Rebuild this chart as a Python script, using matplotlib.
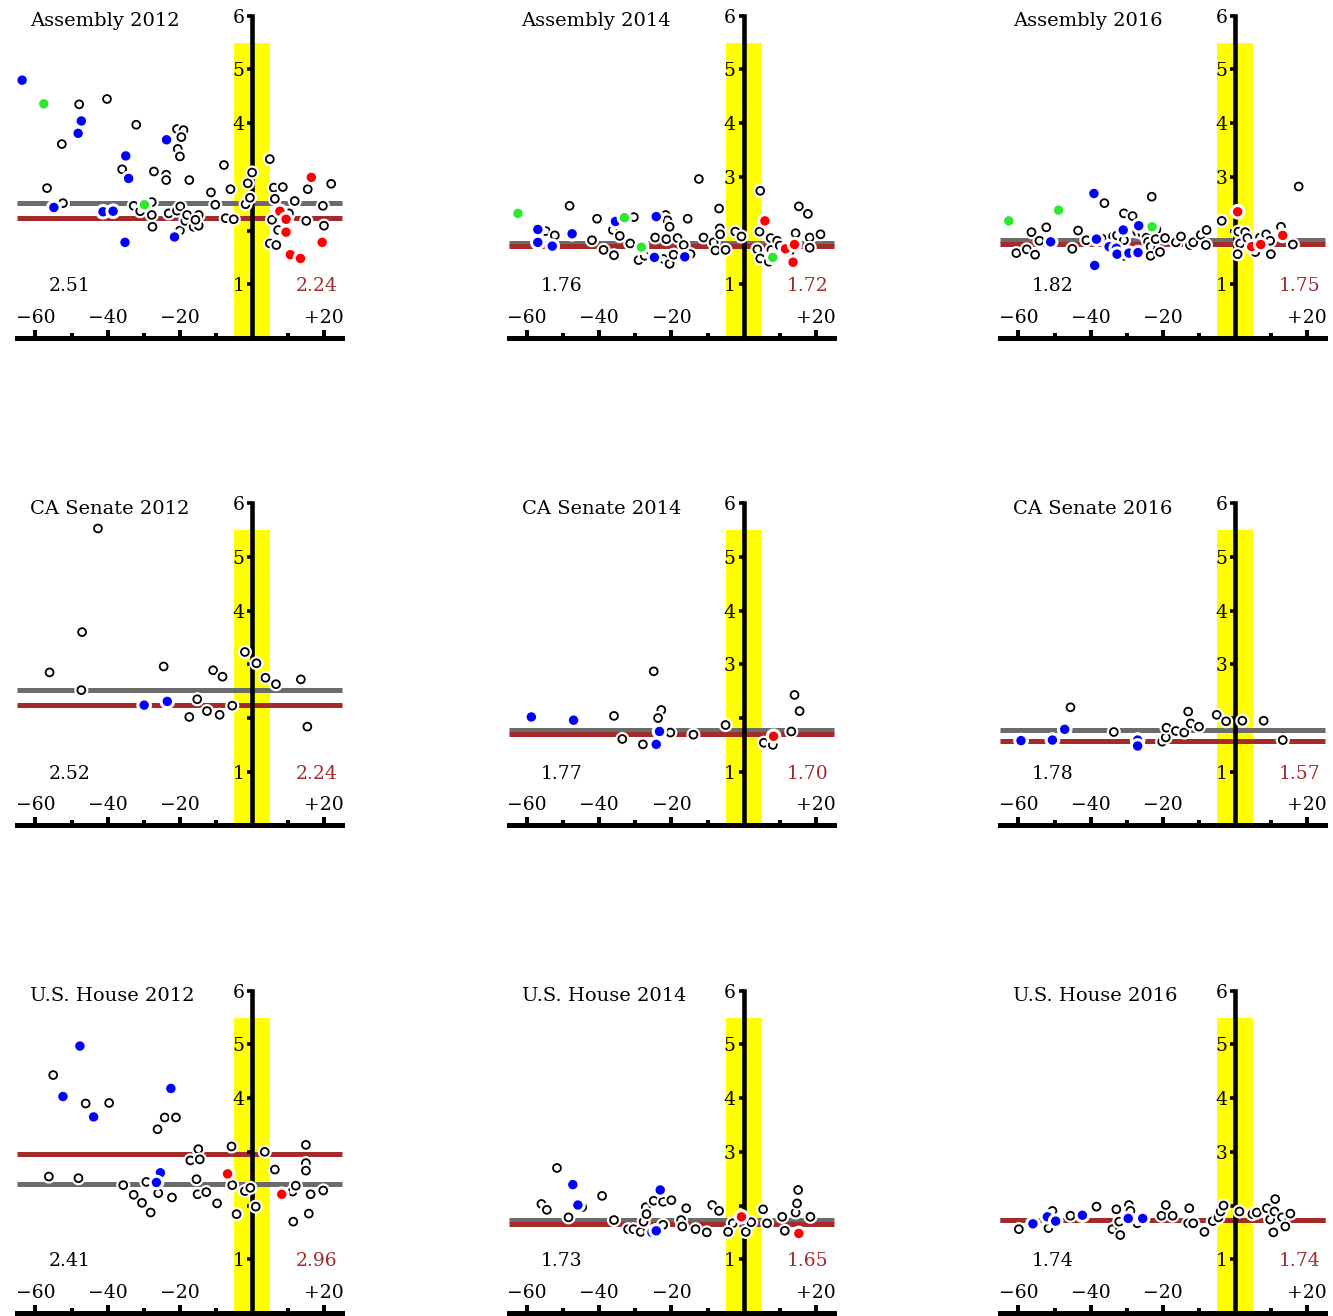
import matplotlib
matplotlib.use("Agg")
import matplotlib.pyplot as plt
import matplotlib.patheffects as pe

plt.rcParams["font.family"] = ["DejaVu Serif"]

titles = ["Assembly 2012", "Assembly 2014", "Assembly 2016",
          "CA Senate 2012", "CA Senate 2014", "CA Senate 2016",
          "U.S. House 2012", "U.S. House 2014", "U.S. House 2016"]
left_means = [2.51, 1.76, 1.82, 2.52, 1.77, 1.78, 2.41, 1.73, 1.74]
right_means = [2.24, 1.72, 1.75, 2.24, 1.70, 1.57, 2.96, 1.65, 1.74]

x_ticks = [-60, -40, -20, 20]
x_tick_labels = ["\u221260", "\u221240", "\u221220", "+20"]
x_minor = [-50, -30, -10, 10]
y_ticks = [1, 2, 3, 4, 5, 6]

# (x, y) points per panel and colour
asm12_open = [(-47.9, 4.35), (-40.2, 4.45), (-52.7, 3.61), (-32.1, 3.97), (-56.8, 2.79),
              (-52.4, 2.51), (-36.0, 3.14), (-27.2, 3.10), (-23.8, 3.04), (-23.8, 2.94),
              (-20.8, 3.89), (-19.0, 3.87), (-19.6, 3.74), (-20.6, 3.52), (-20.0, 3.38),
              (-17.4, 2.94), (-32.8, 2.46), (-31.0, 2.36), (-27.8, 2.53), (-27.8, 2.29),
              (-27.6, 2.07), (-23.1, 2.32), (-20.8, 2.37), (-19.9, 2.45), (-20.0, 2.00),
              (-18.5, 2.18), (-18.0, 2.29), (-16.2, 2.07), (-14.8, 2.09), (-14.8, 2.29),
              (-15.7, 2.20), (-11.4, 2.71), (-10.2, 2.48), (-7.8, 3.22), (-6.0, 2.77),
              (-7.3, 2.23), (-5.1, 2.21), (-1.8, 2.49), (-0.6, 2.61), (-1.2, 2.88),
              (0.0, 3.08), (4.9, 3.33), (6.0, 2.80), (8.5, 2.81), (6.3, 2.59),
              (11.8, 2.55), (10.2, 2.32), (5.5, 2.20), (7.2, 2.01), (4.9, 1.76),
              (6.7, 1.73), (15.4, 2.77), (15.0, 2.18), (19.6, 2.46), (19.9, 2.09),
              (21.9, 2.87)]
asm12_blue = [(-63.7, 4.80), (-47.3, 4.04), (-48.2, 3.81), (-35.0, 3.39), (-34.2, 2.97),
              (-54.9, 2.43), (-41.3, 2.35), (-38.5, 2.36), (-35.2, 1.78), (-23.7, 3.69),
              (-21.5, 1.88)]
asm12_green = [(-57.7, 4.36), (-29.8, 2.48)]
asm12_red = [(16.4, 2.99), (7.7, 2.36), (9.4, 2.21), (9.4, 1.97), (10.6, 1.55),
             (13.4, 1.48), (19.4, 1.78)]

asm14_open = [(-54.8, 1.99), (-52.3, 1.91), (-48.2, 2.46), (-47.3, 1.98), (-40.6, 2.22),
              (-42.0, 1.82), (-38.8, 1.64), (-35.9, 1.54), (-36.2, 2.01), (-34.3, 1.90),
              (-31.4, 1.76), (-30.4, 2.25), (-28.1, 1.73), (-29.1, 1.45), (-27.4, 1.53),
              (-24.5, 1.87), (-21.6, 2.29), (-21.1, 2.19), (-20.5, 2.07), (-21.4, 1.84),
              (-22.2, 1.47), (-20.5, 1.38), (-19.4, 1.55), (-18.3, 1.86), (-16.6, 1.73),
              (-14.7, 1.56), (-15.5, 2.22), (-12.4, 2.96), (-11.1, 1.87), (-8.3, 1.78),
              (-7.8, 1.63), (-6.8, 2.41), (-6.6, 2.04), (-6.5, 1.93), (-5.0, 1.64),
              (-2.3, 1.98), (-0.6, 1.89), (4.6, 2.74), (4.4, 1.98), (3.8, 1.65),
              (4.6, 1.48), (7.5, 1.86), (7.7, 1.64), (7.0, 1.42), (9.3, 1.81),
              (10.0, 1.72), (12.7, 1.60), (14.4, 1.95), (15.3, 2.45), (17.8, 2.31),
              (18.3, 1.87), (18.3, 1.68), (21.3, 1.93)]
asm14_blue = [(-57.0, 2.02), (-57.0, 1.78), (-53.0, 1.71), (-47.5, 1.94), (-35.5, 2.17),
              (-24.2, 2.26), (-24.7, 1.50), (-16.3, 1.51)]
asm14_green = [(-62.5, 2.32), (-33.0, 2.24), (-28.3, 1.69), (8.1, 1.50)]
asm14_red = [(5.9, 2.18), (11.6, 1.66), (14.1, 1.74), (13.7, 1.41)]

asm16_open = [(-60.6, 1.58), (-57.7, 1.65), (-55.4, 1.55), (-56.4, 1.97), (-54.2, 1.81),
              (-52.3, 2.06), (-45.1, 1.66), (-43.5, 2.00), (-41.2, 1.82), (-36.2, 2.51),
              (-36.9, 1.85), (-33.8, 1.89), (-32.7, 1.91), (-30.8, 2.32), (-28.4, 2.27),
              (-30.8, 1.82), (-30.8, 1.53), (-27.1, 1.98), (-25.7, 1.95), (-24.5, 1.87),
              (-23.1, 2.63), (-24.1, 1.79), (-23.4, 1.70), (-23.4, 1.53), (-21.8, 2.02),
              (-22.0, 1.84), (-20.8, 1.60), (-19.4, 1.86), (-16.4, 1.78), (-15.0, 1.89),
              (-12.5, 1.73), (-11.6, 1.78), (-9.5, 1.92), (-7.9, 2.01), (-8.1, 1.73),
              (-3.7, 2.18), (0.9, 1.98), (2.8, 1.97), (1.4, 1.76), (0.7, 1.56),
              (3.4, 1.86), (5.6, 1.60), (6.9, 1.87), (8.6, 1.93), (9.9, 1.56),
              (9.7, 1.81), (12.7, 2.07), (16.0, 1.74), (17.6, 2.82)]
asm16_blue = [(-39.1, 2.69), (-51.1, 1.79), (-38.4, 1.84), (-38.9, 1.35), (-34.9, 1.70),
              (-32.9, 1.67), (-32.7, 1.56), (-31.0, 2.01), (-29.4, 1.58), (-26.7, 2.09),
              (-26.9, 1.59)]
asm16_green = [(-62.7, 2.18), (-48.9, 2.38), (-23.0, 2.07)]
asm16_red = [(0.7, 2.35), (4.6, 1.70), (7.1, 1.74), (13.2, 1.91)]

sen12_open = [(-42.7, 5.53), (-47.1, 3.60), (-56.1, 2.85), (-47.3, 2.52), (-24.5, 2.96),
              (-17.4, 2.02), (-15.2, 2.35), (-12.5, 2.13), (-10.8, 2.89), (-8.2, 2.77),
              (-9.0, 2.06), (-5.5, 2.23), (-2.0, 3.23), (1.2, 3.02), (3.7, 2.75),
              (6.6, 2.63), (13.5, 2.72), (15.3, 1.84)]
sen12_blue = [(-29.9, 2.24), (-23.5, 2.31)]
sen12_green = []
sen12_red = []

sen14_open = [(-35.9, 2.04), (-33.6, 1.61), (-27.9, 1.51), (-24.9, 2.87), (-22.8, 2.15),
              (-23.7, 2.00), (-20.3, 1.73), (-13.9, 1.69), (-5.0, 1.87), (5.6, 1.54),
              (8.1, 1.50), (13.2, 1.75), (14.1, 2.43), (15.5, 2.13)]
sen14_blue = [(-58.8, 2.02), (-47.1, 1.96), (-23.3, 1.75), (-24.2, 1.51)]
sen14_green = []
sen14_red = [(8.3, 1.66)]

sen16_open = [(-45.6, 2.20), (-33.6, 1.74), (-20.2, 1.56), (-19.2, 1.64), (-19.0, 1.82),
              (-16.4, 1.76), (-14.1, 1.73), (-13.0, 2.12), (-12.3, 1.90), (-10.0, 1.84),
              (-5.1, 2.06), (-2.5, 1.94), (2.0, 1.95), (7.9, 1.95), (13.2, 1.59)]
sen16_blue = [(-59.3, 1.58), (-50.6, 1.59), (-47.2, 1.79), (-27.0, 1.59), (-27.0, 1.48)]
sen16_green = []
sen16_red = []

hou12_open = [(-55.1, 4.43), (-46.1, 3.90), (-39.6, 3.91), (-56.3, 2.54), (-48.1, 2.51),
              (-35.7, 2.38), (-32.8, 2.20), (-30.5, 2.05), (-29.3, 2.44), (-28.1, 1.87),
              (-26.2, 3.42), (-26.0, 2.23), (-24.2, 3.64), (-21.1, 3.64), (-22.2, 2.15),
              (-17.1, 2.84), (-14.9, 3.05), (-14.5, 2.86), (-15.4, 2.49), (-15.1, 2.21),
              (-12.7, 2.25), (-9.7, 2.04), (-5.7, 3.10), (-5.5, 2.38), (-4.3, 1.84),
              (-2.0, 2.27), (-0.5, 2.33), (1.0, 1.98), (3.5, 3.00), (6.3, 2.67),
              (11.2, 2.26), (12.1, 2.37), (11.4, 1.70), (14.9, 3.13), (14.9, 2.79),
              (14.9, 2.65), (16.2, 2.21), (15.7, 1.85), (19.7, 2.28)]
hou12_blue = [(-47.7, 4.97), (-52.4, 4.03), (-43.9, 3.65), (-22.5, 4.18), (-25.4, 2.61),
              (-26.5, 2.43)]
hou12_green = []
hou12_red = [(-6.8, 2.59), (8.2, 2.21)]

hou14_open = [(-51.7, 2.70), (-56.0, 2.03), (-54.5, 1.92), (-44.7, 1.97), (-48.5, 1.78),
              (-39.2, 2.18), (-35.9, 1.73), (-32.0, 1.56), (-30.5, 1.56), (-28.5, 1.51),
              (-27.7, 1.70), (-27.1, 1.97), (-26.9, 1.84), (-24.9, 2.09), (-22.3, 2.07),
              (-20.0, 2.10), (-22.3, 1.64), (-17.3, 1.73), (-15.9, 1.95), (-17.0, 1.61),
              (-13.3, 1.56), (-10.2, 1.50), (-8.7, 2.01), (-6.8, 1.90), (-3.0, 1.67),
              (-4.3, 1.51), (0.6, 1.51), (2.1, 1.69), (5.4, 1.93), (6.5, 1.67),
              (10.7, 1.79), (11.4, 1.53), (14.4, 1.87), (14.8, 2.04), (15.1, 2.29),
              (18.5, 1.79)]
hou14_blue = [(-47.3, 2.39), (-45.9, 2.01), (-23.1, 2.29), (-25.4, 1.50), (-24.2, 1.53)]
hou14_green = []
hou14_red = [(-0.6, 1.79), (15.3, 1.48)]

hou16_open = [(-59.9, 1.56), (-51.7, 1.58), (-50.6, 1.90), (-45.6, 1.81), (-38.4, 1.98),
              (-34.0, 1.56), (-32.9, 1.93), (-31.8, 1.45), (-32.1, 1.70), (-29.4, 2.01),
              (-29.0, 1.90), (-27.1, 1.67), (-20.4, 1.81), (-19.2, 2.01), (-17.3, 1.81),
              (-12.7, 1.95), (-13.0, 1.67), (-11.6, 1.67), (-8.5, 1.51), (-6.2, 1.71),
              (-4.6, 1.78), (-4.0, 1.89), (-3.2, 2.00), (1.2, 1.89), (4.8, 1.84),
              (6.0, 1.87), (8.8, 1.95), (11.1, 2.12), (9.7, 1.74), (10.6, 1.50),
              (10.9, 1.89), (13.0, 1.78), (13.9, 1.61), (15.3, 1.85)]
hou16_blue = [(-56.0, 1.66), (-52.0, 1.79), (-49.7, 1.71), (-42.3, 1.82), (-29.6, 1.76),
              (-25.6, 1.76)]
hou16_green = []
hou16_red = []

panels = [
    (asm12_open, asm12_blue, asm12_green, asm12_red),
    (asm14_open, asm14_blue, asm14_green, asm14_red),
    (asm16_open, asm16_blue, asm16_green, asm16_red),
    (sen12_open, sen12_blue, sen12_green, sen12_red),
    (sen14_open, sen14_blue, sen14_green, sen14_red),
    (sen16_open, sen16_blue, sen16_green, sen16_red),
    (hou12_open, hou12_blue, hou12_green, hou12_red),
    (hou14_open, hou14_blue, hou14_green, hou14_red),
    (hou16_open, hou16_blue, hou16_green, hou16_red),
]

GREY = "#6b6b6b"
BROWN = "#a52a2a"
halo = [pe.withStroke(linewidth=4.5, foreground="white")]

W, H = 1333, 1316
fig = plt.figure(figsize=(W / 100, H / 100), dpi=100)

for i, (title, lm, rm, pts) in enumerate(zip(titles, left_means, right_means, panels)):
    r, c = divmod(i, 3)
    x0 = 252 + c * 491.5   # pixel position of x=0
    y0 = 338 + r * 487.5   # pixel position of y=0 (from top)
    ax = fig.add_axes([(x0 - 249) / W, (H - y0 - 10.7) / H, 346.6 / W, 346.4 / H])
    ax.set_xlim(-69, 27)
    ax.set_ylim(-0.2, 6.25)
    ax.set_facecolor("none")

    for s in ["top", "right"]:
        ax.spines[s].set_visible(False)
    ax.spines["left"].set_position(("data", 0))
    ax.spines["left"].set_bounds(0, 6)
    ax.spines["left"].set_linewidth(3.3)
    ax.spines["bottom"].set_position(("data", 0))
    ax.spines["bottom"].set_bounds(-65, 25)
    ax.spines["bottom"].set_linewidth(3.6)

    ax.set_xticks(x_ticks)
    ax.set_xticklabels(x_tick_labels)
    ax.set_xticks(x_minor, minor=True)
    ax.tick_params(axis="x", which="both", direction="in", width=2.9, pad=-21, labelsize=13.5)
    ax.tick_params(axis="x", which="major", length=6)
    ax.tick_params(axis="x", which="minor", length=3.6)
    # labels close to the mean lines are left out
    ax.set_yticks(y_ticks)
    ax.set_yticklabels([str(t) if min(abs(t - lm), abs(t - rm)) > 0.55 else "" for t in y_ticks])
    ax.tick_params(axis="y", direction="out", length=3.6, width=2.6, pad=2, labelsize=13.5)

    ax.fill_between([-5, 5], 0, 5.5, color="yellow", lw=0, zorder=0)
    ax.hlines(lm, -65, 25, color=GREY, lw=3.6, zorder=1)
    ax.hlines(rm, -65, 25, color=BROWN, lw=3.6, zorder=1.1)

    open_pts, blue_pts, green_pts, red_pts = pts
    ax.scatter([p[0] for p in open_pts], [p[1] for p in open_pts], s=32, facecolor="white",
               edgecolor="black", linewidth=1.3, zorder=3, path_effects=halo)
    for group, col in [(blue_pts, "#0000ff"), (green_pts, "#2ee82e"), (red_pts, "#ff0000")]:
        if group:
            ax.scatter([p[0] for p in group], [p[1] for p in group], s=46, color=col,
                       linewidth=0, zorder=4, path_effects=halo)

    ax.text(-61.5, 5.80, title, ha="left", va="baseline", fontsize=14)
    ax.text(-50.5, 0.87, f"{lm:.2f}", ha="center", va="baseline", fontsize=13.5)
    ax.text(23.6, 0.87, f"{rm:.2f}", ha="right", va="baseline", fontsize=13.5, color=BROWN)

fig.savefig("out.png", dpi=100)
